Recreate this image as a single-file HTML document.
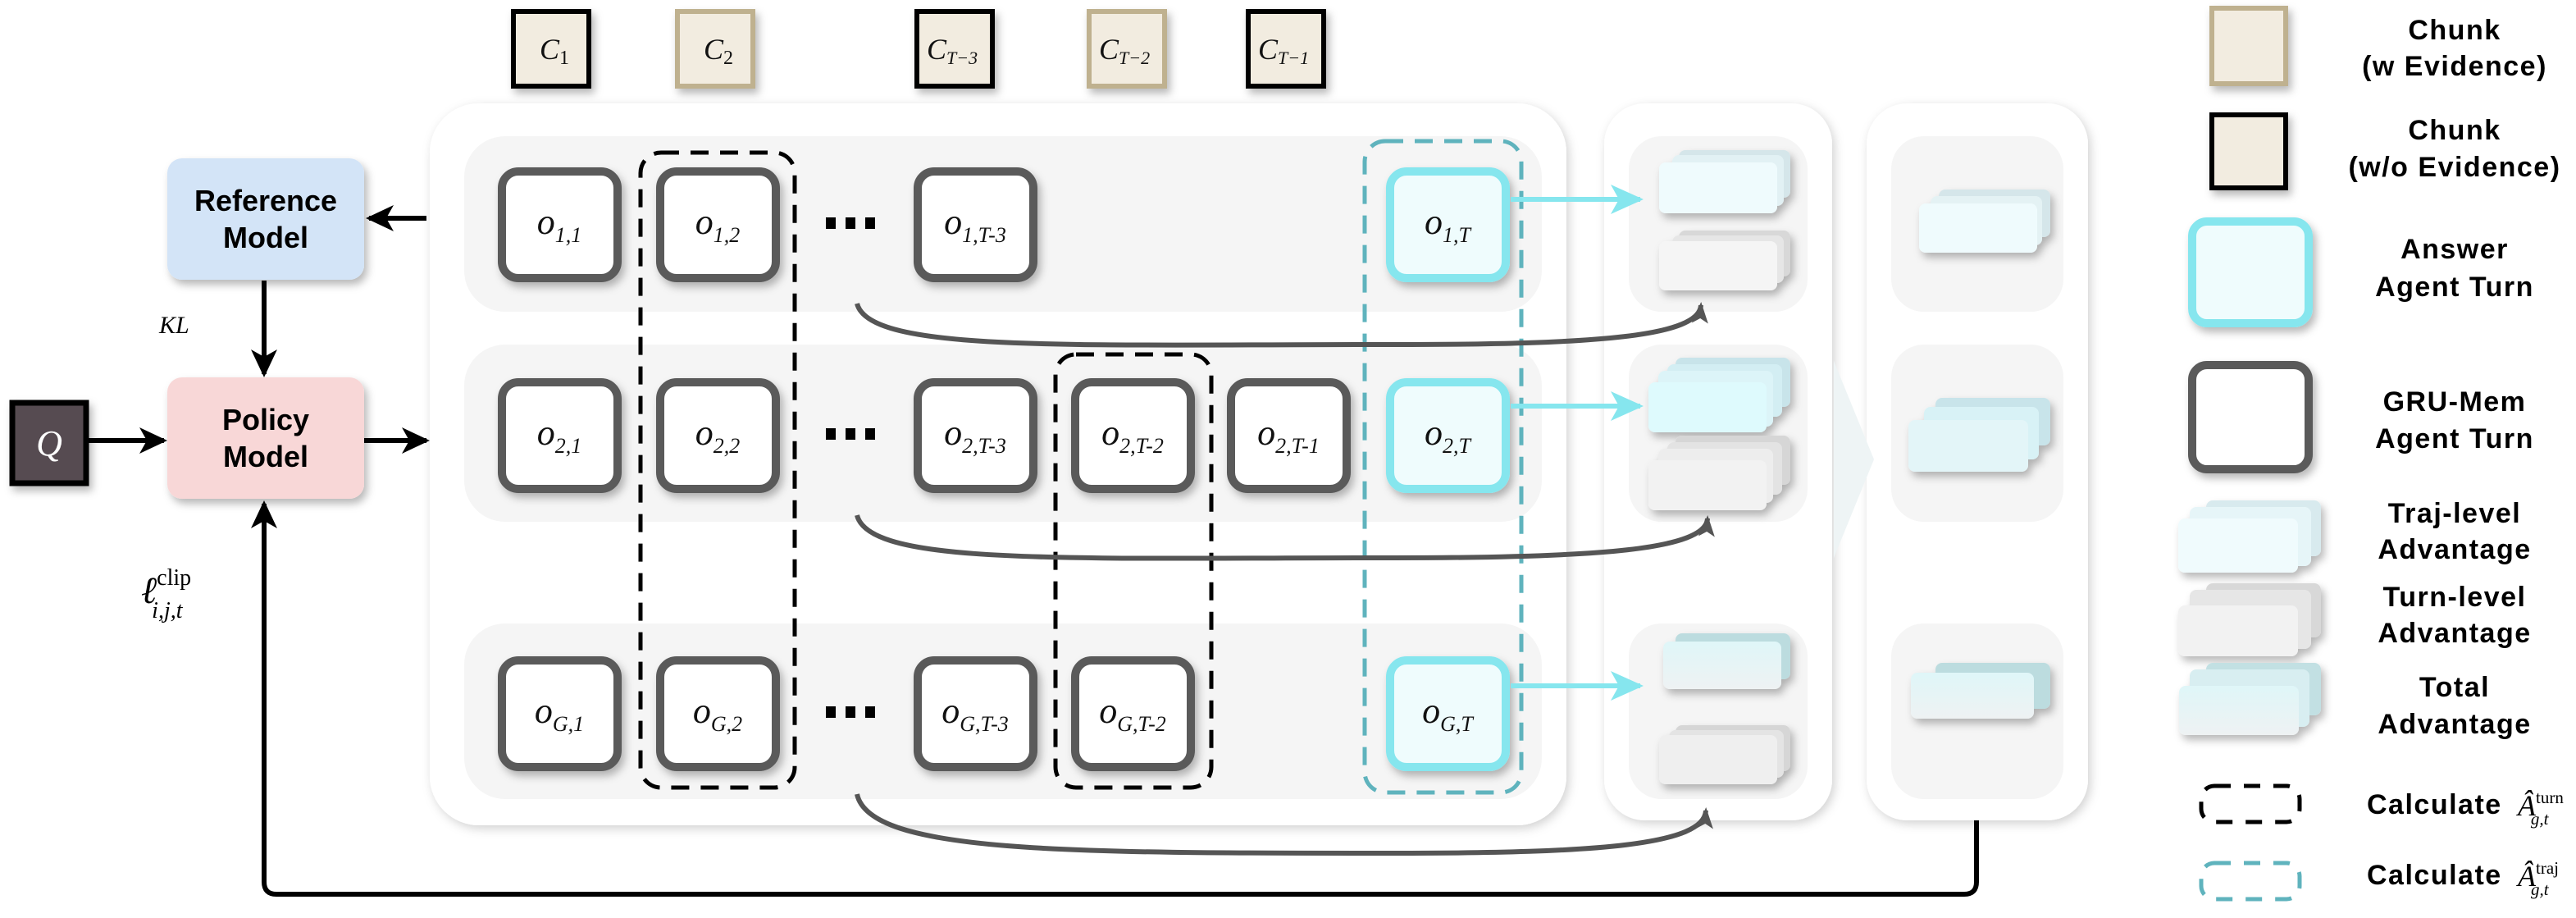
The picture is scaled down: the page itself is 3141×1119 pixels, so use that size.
<!DOCTYPE html>
<html><head><meta charset="utf-8"><style>
html,body{margin:0;padding:0;background:#fff;}
svg{display:block}
.b{font-family:"Liberation Sans",Arial,sans-serif;font-weight:bold;}
.m{font-family:"Liberation Serif",serif;font-style:italic;}
</style></head><body>
<svg width="3141" height="1119" viewBox="0 0 3141 1119" xmlns="http://www.w3.org/2000/svg">
<defs>
<filter id="sh" x="-20%" y="-20%" width="150%" height="150%"><feDropShadow dx="4" dy="6" stdDeviation="5" flood-color="#000" flood-opacity="0.28"/></filter>
<filter id="shp" x="-10%" y="-10%" width="120%" height="120%"><feDropShadow dx="3" dy="4" stdDeviation="6" flood-color="#000" flood-opacity="0.18"/></filter>
<marker id="ab" markerWidth="36" markerHeight="36" refX="30" refY="18" orient="auto" markerUnits="userSpaceOnUse" viewBox="0 0 36 36"><path d="M0,2 L34,18 L0,34 L9,18z" fill="#000"/></marker>
<marker id="ag" markerWidth="26" markerHeight="26" refX="22" refY="13" orient="auto" markerUnits="userSpaceOnUse" viewBox="0 0 26 26"><path d="M0,3 L26,13 L0,23 L6,13z" fill="#555"/></marker>
<marker id="ac" markerWidth="40" markerHeight="40" refX="36" refY="20" orient="auto" markerUnits="userSpaceOnUse" viewBox="0 0 40 40"><path d="M0,2 L40,20 L0,38 L10,20z" fill="#86e6ee"/></marker>
<linearGradient id="gtot" x1="0" y1="0" x2="0" y2="1"><stop offset="0" stop-color="#dff6f8"/><stop offset="1" stop-color="#eef2f3"/></linearGradient>
</defs>

<!-- top chunks -->
<g filter="url(#sh)">
<rect x="626" y="14" width="92" height="91" fill="#f2ece0" stroke="#000" stroke-width="6"/>
<rect x="826" y="14" width="92" height="91" fill="#f2ece0" stroke="#bfb18f" stroke-width="6"/>
<rect x="1118" y="14" width="92" height="91" fill="#f2ece0" stroke="#000" stroke-width="6"/>
<rect x="1328" y="14" width="92" height="91" fill="#f2ece0" stroke="#bfb18f" stroke-width="6"/>
<rect x="1522" y="14" width="92" height="91" fill="#f2ece0" stroke="#000" stroke-width="6"/>
</g>
<g class="m" font-size="36" fill="#111">
<text x="658" y="72">C<tspan font-size="24" font-style="normal" dy="6">1</tspan></text>
<text x="858" y="72">C<tspan font-size="24" font-style="normal" dy="6">2</tspan></text>
<text x="1130" y="72">C<tspan font-size="22" dy="6">T−3</tspan></text>
<text x="1340" y="72">C<tspan font-size="22" dy="6">T−2</tspan></text>
<text x="1534" y="72">C<tspan font-size="22" dy="6">T−1</tspan></text>
</g>

<!-- panels -->
<rect x="524" y="126" width="1386" height="880" rx="60" fill="#fff" filter="url(#shp)"/>
<rect x="1956" y="126" width="278" height="874" rx="50" fill="#fff" filter="url(#shp)"/>
<rect x="2276" y="126" width="270" height="874" rx="50" fill="#fff" filter="url(#shp)"/>
<path d="M2236,440 L2285,560 L2236,680z" fill="#eef4f5"/>
<g fill="#f5f5f5">
<rect x="566" y="166" width="1314" height="214" rx="50"/>
<rect x="566" y="420" width="1314" height="216" rx="50"/>
<rect x="566" y="760" width="1314" height="214" rx="50"/>
<rect x="1986" y="166" width="218" height="214" rx="40"/>
<rect x="1986" y="420" width="218" height="216" rx="40"/>
<rect x="1986" y="760" width="218" height="214" rx="40"/>
<rect x="2306" y="166" width="210" height="214" rx="40"/>
<rect x="2306" y="420" width="210" height="216" rx="40"/>
<rect x="2306" y="760" width="210" height="214" rx="40"/>
</g>

<!-- nodes -->
<g filter="url(#sh)" fill="#fff" stroke="#5a5a5a" stroke-width="10">
<rect x="612" y="209" width="141" height="130" rx="20"/>
<rect x="805" y="209" width="141" height="130" rx="20"/>
<rect x="1119" y="209" width="141" height="130" rx="20"/>
<rect x="612" y="466" width="141" height="130" rx="20"/>
<rect x="805" y="466" width="141" height="130" rx="20"/>
<rect x="1119" y="466" width="141" height="130" rx="20"/>
<rect x="1311" y="466" width="141" height="130" rx="20"/>
<rect x="1501" y="466" width="141" height="130" rx="20"/>
<rect x="612" y="805" width="141" height="130" rx="20"/>
<rect x="805" y="805" width="141" height="130" rx="20"/>
<rect x="1119" y="805" width="141" height="130" rx="20"/>
<rect x="1311" y="805" width="141" height="130" rx="20"/>
</g>
<g filter="url(#sh)" fill="#effcfd" stroke="#86e6ee" stroke-width="10">
<rect x="1695" y="209" width="141" height="130" rx="20"/>
<rect x="1695" y="466" width="141" height="130" rx="20"/>
<rect x="1695" y="805" width="141" height="130" rx="20"/>
</g>
<g class="m" font-size="44" fill="#111" text-anchor="middle">
<text x="682" y="285">o<tspan font-size="26" dy="10">1,1</tspan></text>
<text x="875" y="285">o<tspan font-size="26" dy="10">1,2</tspan></text>
<text x="1189" y="285">o<tspan font-size="26" dy="10">1,T-3</tspan></text>
<text x="1765" y="285">o<tspan font-size="26" dy="10">1,T</tspan></text>
<text x="682" y="542">o<tspan font-size="26" dy="10">2,1</tspan></text>
<text x="875" y="542">o<tspan font-size="26" dy="10">2,2</tspan></text>
<text x="1189" y="542">o<tspan font-size="26" dy="10">2,T-3</tspan></text>
<text x="1381" y="542">o<tspan font-size="26" dy="10">2,T-2</tspan></text>
<text x="1571" y="542">o<tspan font-size="26" dy="10">2,T-1</tspan></text>
<text x="1765" y="542">o<tspan font-size="26" dy="10">2,T</tspan></text>
<text x="682" y="881">o<tspan font-size="26" dy="10">G,1</tspan></text>
<text x="875" y="881">o<tspan font-size="26" dy="10">G,2</tspan></text>
<text x="1189" y="881">o<tspan font-size="26" dy="10">G,T-3</tspan></text>
<text x="1381" y="881">o<tspan font-size="26" dy="10">G,T-2</tspan></text>
<text x="1765" y="881">o<tspan font-size="26" dy="10">G,T</tspan></text>
</g>
<g fill="#000">
<rect x="1007" y="265" width="12" height="14"/><rect x="1031" y="265" width="12" height="14"/><rect x="1055" y="265" width="12" height="14"/>
<rect x="1007" y="522" width="12" height="14"/><rect x="1031" y="522" width="12" height="14"/><rect x="1055" y="522" width="12" height="14"/>
<rect x="1007" y="861" width="12" height="14"/><rect x="1031" y="861" width="12" height="14"/><rect x="1055" y="861" width="12" height="14"/>
</g>

<g fill="none" stroke-width="5" stroke-dasharray="22 14">
<rect x="781" y="186" width="188" height="774" rx="25" stroke="#000"/>
<rect x="1287" y="432" width="190" height="528" rx="25" stroke="#000"/>
<rect x="1664" y="172" width="191" height="794" rx="25" stroke="#5fb3bd"/>
</g>

<g fill="none" stroke="#555" stroke-width="6">
<path d="M1045,370 C1060,430 1300,420 1700,420 C1950,420 2072,410 2074,372" marker-end="url(#ag)"/>
<path d="M1045,628 C1060,690 1300,680 1700,680 C1950,680 2080,670 2082,632" marker-end="url(#ag)"/>
<path d="M1045,968 C1060,1040 1300,1040 1700,1040 C1950,1040 2078,1030 2080,988" marker-end="url(#ag)"/>
</g>
<g stroke="#86e6ee" stroke-width="6" fill="none">
<line x1="1842" y1="243" x2="2000" y2="243" marker-end="url(#ac)"/>
<line x1="1842" y1="495" x2="2000" y2="495" marker-end="url(#ac)"/>
<line x1="1842" y1="836" x2="2000" y2="836" marker-end="url(#ac)"/>
</g>

<g filter="url(#sh)">
<rect x="2047" y="183" width="136" height="58" rx="8" fill="#d5e6ea"/>
<rect x="2039" y="189" width="136" height="62" rx="8" fill="#e2f1f4"/>
<rect x="2023" y="198" width="144" height="62" rx="8" fill="#effbfd"/>
<rect x="2047" y="281" width="136" height="56" rx="8" fill="#d8d8d8"/>
<rect x="2039" y="287" width="136" height="58" rx="8" fill="#e6e6e6"/>
<rect x="2023" y="294" width="144" height="60" rx="8" fill="#f5f5f5"/>
<rect x="2043" y="436" width="140" height="60" rx="8" fill="#c8e4ea"/>
<rect x="2033" y="444" width="140" height="64" rx="8" fill="#d3eef3"/>
<rect x="2022" y="452" width="140" height="68" rx="8" fill="#dcf4f8"/>
<rect x="2010" y="466" width="144" height="61" rx="8" fill="#defafd"/>
<rect x="2043" y="531" width="140" height="60" rx="8" fill="#d6d6d6"/>
<rect x="2033" y="539" width="140" height="64" rx="8" fill="#e3e3e3"/>
<rect x="2022" y="547" width="140" height="66" rx="8" fill="#ededed"/>
<rect x="2010" y="561" width="144" height="61" rx="8" fill="#f2f2f2"/>
<rect x="2043" y="772" width="140" height="56" rx="8" fill="#bcdcdf"/>
<rect x="2028" y="782" width="144" height="58" rx="8" fill="url(#gtot)"/>
<rect x="2043" y="884" width="140" height="56" rx="8" fill="#d6d6d6"/>
<rect x="2035" y="890" width="140" height="58" rx="8" fill="#e4e4e4"/>
<rect x="2023" y="896" width="144" height="60" rx="8" fill="#efefef"/>
<rect x="2364" y="231" width="136" height="58" rx="8" fill="#d5e6ea"/>
<rect x="2354" y="239" width="136" height="60" rx="8" fill="#e4f2f4"/>
<rect x="2340" y="248" width="144" height="60" rx="8" fill="#effbfd"/>
<rect x="2360" y="485" width="140" height="58" rx="8" fill="#c8e4ea"/>
<rect x="2346" y="496" width="140" height="64" rx="8" fill="#d8f2f6"/>
<rect x="2327" y="512" width="146" height="63" rx="8" fill="#e3f5f8"/>
<rect x="2360" y="808" width="140" height="56" rx="8" fill="#bcdcdf"/>
<rect x="2330" y="820" width="150" height="56" rx="8" fill="url(#gtot)"/>
</g>

<g filter="url(#sh)">
<rect x="204" y="193" width="240" height="148" rx="18" fill="#d3e4f7"/>
<rect x="204" y="460" width="240" height="148" rx="18" fill="#f8d7d7"/>
<rect x="15" y="491" width="90" height="98" fill="#574c51" stroke="#000" stroke-width="7"/>
</g>
<g class="b" font-size="36" text-anchor="middle" fill="#000">
<text x="324" y="257">Reference</text><text x="324" y="302">Model</text>
<text x="324" y="524">Policy</text><text x="324" y="569">Model</text>
</g>
<text x="60" y="555" class="m" font-size="44" fill="#fff" text-anchor="middle">Q</text>
<text x="194" y="406" class="m" font-size="30" fill="#000">KL</text>
<text x="172" y="735" class="m" font-size="46" fill="#000">ℓ<tspan font-size="28" font-style="normal" dy="-22">clip</tspan><tspan font-size="28" dx="-48" dy="40">i,j,t</tspan></text>
<g stroke="#000" stroke-width="6" fill="none">
<line x1="520" y1="266" x2="450" y2="266" marker-end="url(#ab)"/>
<line x1="322" y1="342" x2="322" y2="456" marker-end="url(#ab)"/>
<line x1="105" y1="537" x2="200" y2="537" marker-end="url(#ab)"/>
<line x1="444" y1="537" x2="520" y2="537" marker-end="url(#ab)"/>
<path d="M2410,1000 L2410,1075 Q2410,1090 2395,1090 L337,1090 Q322,1090 322,1075 L322,614" marker-end="url(#ab)"/>
</g>

<g filter="url(#sh)">
<rect x="2697" y="10" width="90" height="92" fill="#f2ece0" stroke="#bfb18f" stroke-width="6"/>
<rect x="2697" y="140" width="90" height="89" fill="#f2ece0" stroke="#000" stroke-width="6"/>
<rect x="2673" y="270" width="142" height="124" rx="18" fill="#effcfd" stroke="#86e6ee" stroke-width="10"/>
<rect x="2673" y="445" width="142" height="127" rx="18" fill="#fff" stroke="#5a5a5a" stroke-width="10"/>
<rect x="2690" y="610" width="140" height="68" rx="8" fill="#d8eaee"/>
<rect x="2670" y="618" width="148" height="72" rx="8" fill="#e6f5f8"/>
<rect x="2656" y="632" width="146" height="66" rx="8" fill="#f0fbfd"/>
<rect x="2690" y="711" width="140" height="66" rx="8" fill="#d8d8d8"/>
<rect x="2670" y="719" width="148" height="72" rx="8" fill="#e6e6e6"/>
<rect x="2656" y="738" width="146" height="62" rx="8" fill="#f2f2f2"/>
<rect x="2690" y="808" width="140" height="64" rx="8" fill="#c2e0e3"/>
<rect x="2670" y="816" width="146" height="70" rx="8" fill="#d8eef1"/>
<rect x="2657" y="836" width="146" height="60" rx="8" fill="url(#gtot)"/>
</g>
<g fill="none" stroke-width="5" stroke-dasharray="20 16">
<rect x="2684" y="958" width="120" height="44" rx="16" stroke="#000"/>
<rect x="2684" y="1052" width="120" height="44" rx="16" stroke="#5fb3bd"/>
</g>
<g class="b" font-size="34" letter-spacing="1.5" text-anchor="middle" fill="#000">
<text x="2993" y="48">Chunk</text><text x="2993" y="92">(w Evidence)</text>
<text x="2993" y="170">Chunk</text><text x="2993" y="215">(w/o Evidence)</text>
<text x="2993" y="315">Answer</text><text x="2993" y="361">Agent Turn</text>
<text x="2993" y="501">GRU-Mem</text><text x="2993" y="546">Agent Turn</text>
<text x="2993" y="637">Traj-level</text><text x="2993" y="681">Advantage</text>
<text x="2993" y="739">Turn-level</text><text x="2993" y="783">Advantage</text>
<text x="2993" y="849">Total</text><text x="2993" y="894">Advantage</text>
</g>
<g class="b" font-size="34" letter-spacing="1.5" fill="#000">
<text x="2886" y="992">Calculate</text>
<text x="2886" y="1078">Calculate</text>
</g>
<g class="m" font-size="36" fill="#000">
<text x="3070" y="994">Â<tspan font-size="21" font-style="normal" dy="-15">turn</tspan><tspan font-size="21" dx="-40" dy="26">g,t</tspan></text>
<text x="3070" y="1080">Â<tspan font-size="21" font-style="normal" dy="-15">traj</tspan><tspan font-size="21" dx="-34" dy="26">g,t</tspan></text>
</g>
</svg>
</body></html>
